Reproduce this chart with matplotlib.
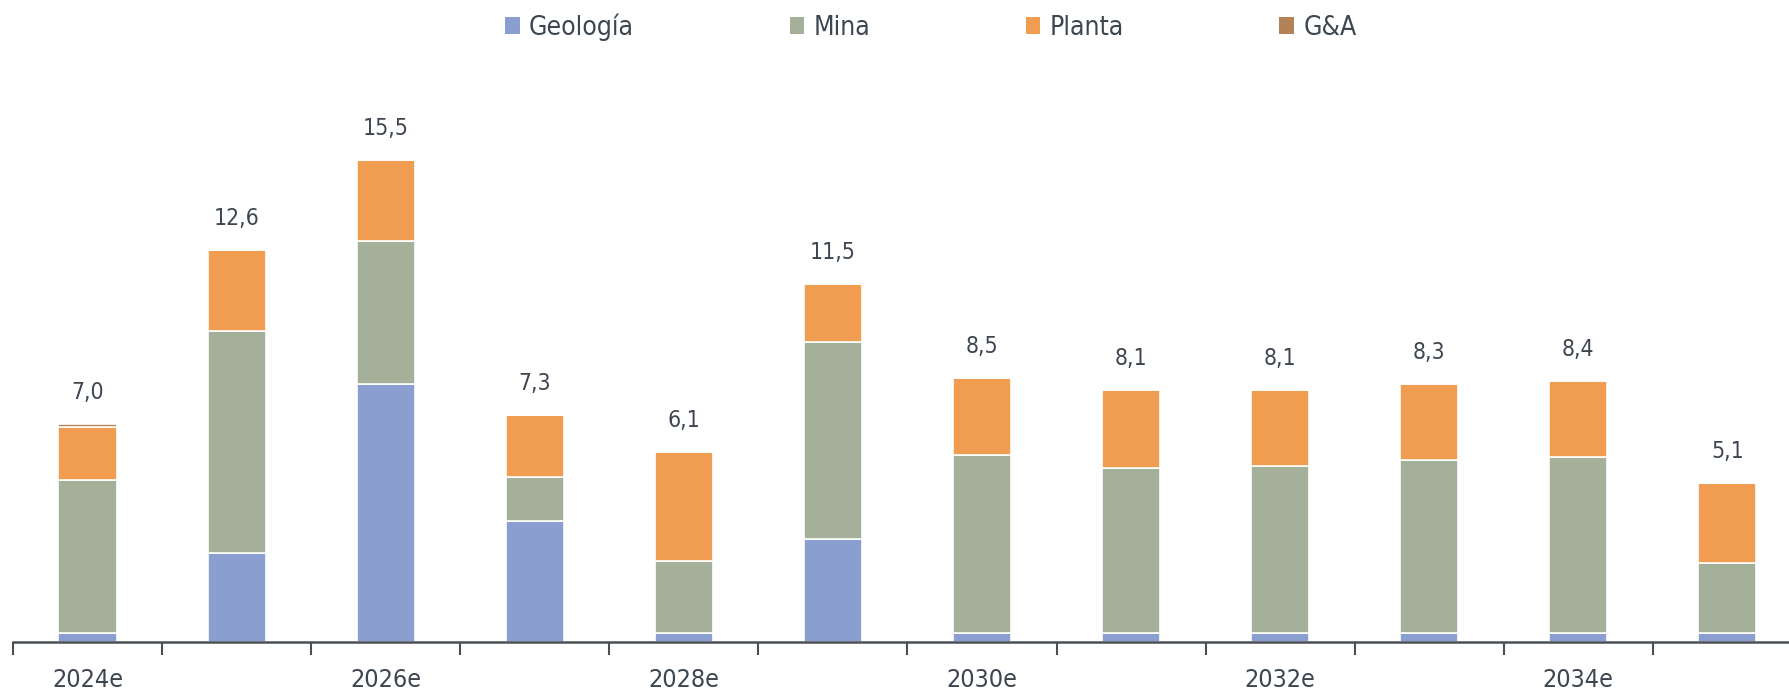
import matplotlib
matplotlib.use("Agg")
import matplotlib.pyplot as plt
import numpy as np

years = ["2024e", "2025e", "2026e", "2027e", "2028e", "2029e",
         "2030e", "2031e", "2032e", "2033e", "2034e", "2035e"]
geologia = [0.3, 2.85, 8.3, 3.9, 0.3, 3.3, 0.3, 0.3, 0.3, 0.3, 0.3, 0.3]
mina = [4.9, 7.15, 4.6, 1.4, 2.3, 6.35, 5.7, 5.3, 5.35, 5.55, 5.65, 2.25]
planta = [1.7, 2.6, 2.6, 2.0, 3.5, 1.85, 2.5, 2.5, 2.45, 2.45, 2.45, 2.55]
gya = [0.12, 0, 0, 0, 0, 0, 0, 0, 0, 0, 0, 0]
totals = ["7,0", "12,6", "15,5", "7,3", "6,1", "11,5",
          "8,5", "8,1", "8,1", "8,3", "8,4", "5,1"]

series = [("Geología", geologia, "#8a9fcf"),
          ("Mina", mina, "#a5b09a"),
          ("Planta", planta, "#f09d51"),
          ("G&A", gya, "#b38357")]

plt.rcParams['font.family'] = ['DejaVu Sans']
plt.rcParams['font.stretch'] = 'condensed'
text_color = "#3d4650"

fig = plt.figure(figsize=(17.9, 6.89), dpi=100)
ax = fig.add_axes([13/1790, 1 - 642/689, 1 - 13/1790, 17*31.1/689])

x = np.arange(len(years))
bottom = np.zeros(len(years))
handles = []
for name, vals, col in series:
    vals = np.array(vals, dtype=float)
    b = ax.bar(x, vals, width=0.39, bottom=bottom, color=col,
               edgecolor="white", linewidth=1.2, label=name)
    handles.append(b)
    bottom = bottom + vals

for xi, top, lab in zip(x, bottom, totals):
    ax.annotate(lab, (xi, top), xytext=(0, 20), textcoords="offset pixels",
                ha="center", va="bottom", fontsize=16.5, color=text_color,
                fontstretch='condensed')

ax.set_xlim(-0.5, 11.42)
ax.set_ylim(0, 17)
for s in ["top", "right", "left"]:
    ax.spines[s].set_visible(False)
ax.spines["bottom"].set_color("#4a4f55")
ax.spines["bottom"].set_linewidth(1.8)
ax.set_yticks([])

ax.set_xticks(np.arange(-0.5, 11.5, 1.0))
ax.set_xticklabels([])
ax.tick_params(axis="x", which="major", length=9, width=1.5, color="#4a4f55")
ax.set_xticks(x[::2], minor=True)
ax.set_xticklabels([years[i] for i in x[::2]], minor=True, fontstretch='condensed')
ax.tick_params(axis="x", which="minor", length=0, pad=18.5, labelsize=18,
               labelcolor=text_color)

leg = fig.legend(handles=[h for h in handles], labels=[s[0] for s in series],
                 loc="center", bbox_to_anchor=(0.52, 1 - 27/689), ncol=4,
                 frameon=False, fontsize=19, handlelength=0.55, handleheight=0.65,
                 handletextpad=0.35, columnspacing=5.9, labelcolor=text_color)
for h in leg.legend_handles:
    h.set_edgecolor("none")

fig.savefig("out.png", dpi=100)
